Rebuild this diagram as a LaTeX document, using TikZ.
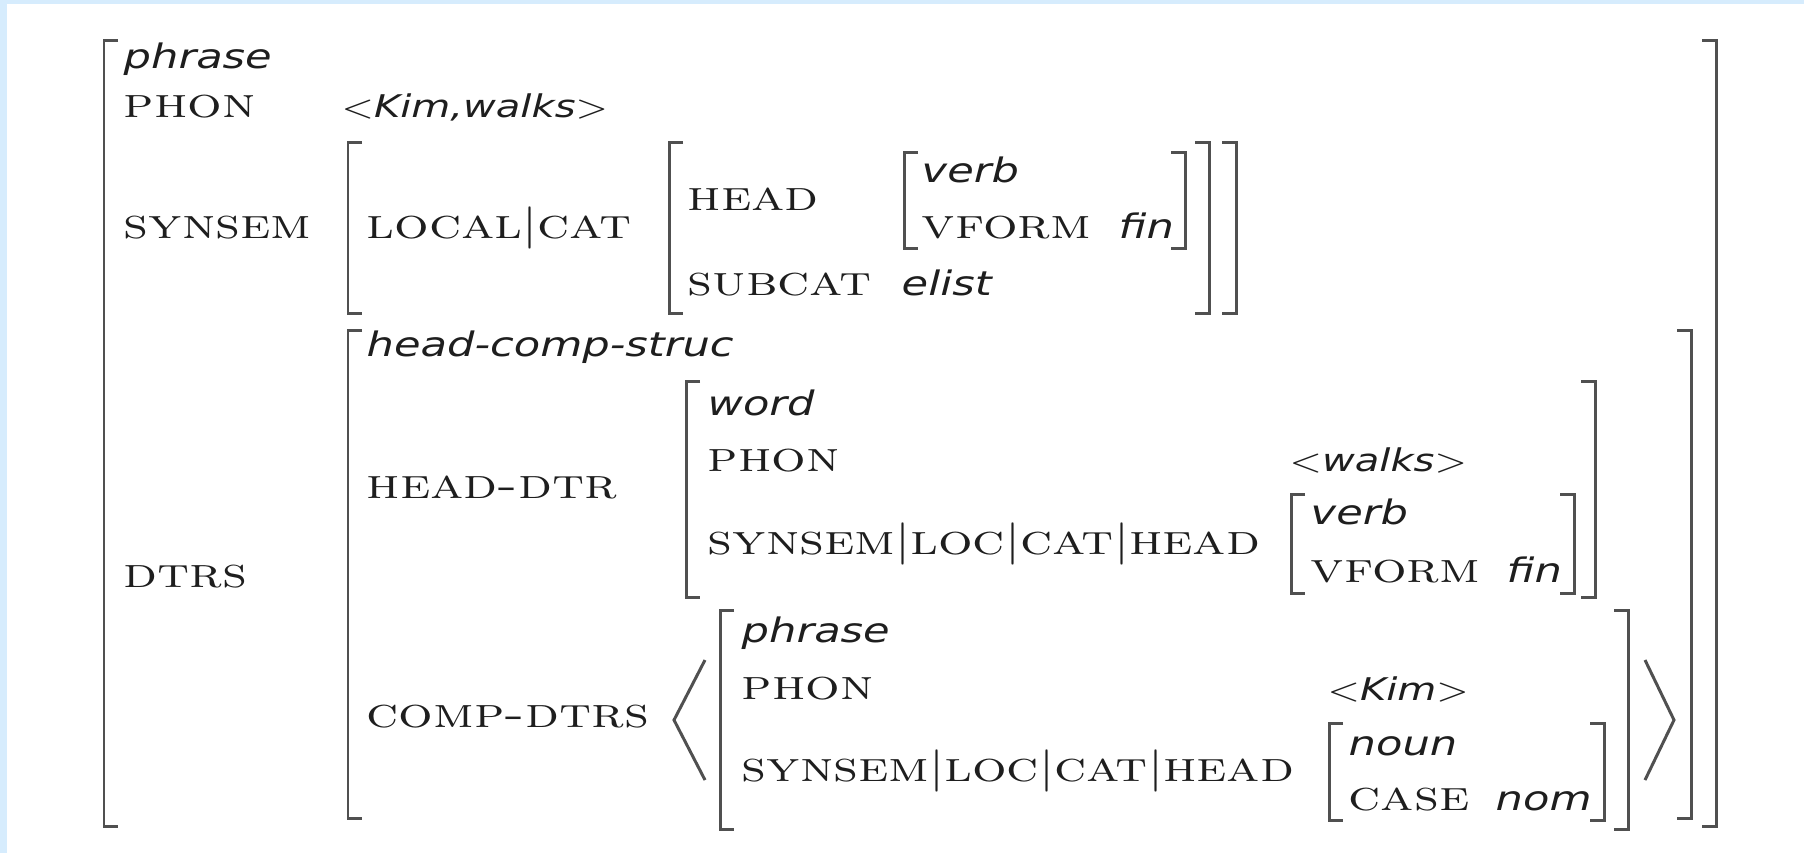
\documentclass[tikz,border=0pt]{standalone}
\usepackage{fontspec}
\usepackage{graphicx}
\newfontfamily\typefont{DejaVu Sans}
\definecolor{bgblue}{RGB}{214,236,253}
\definecolor{ink}{RGB}{30,30,30}
\definecolor{rule}{RGB}{80,80,80}
% features in small caps, types in oblique sans, both a little wide
\newcommand{\sx}{1.28}
\newcommand{\feat}[1]{\scalebox{\sx}[1]{\fontsize{12.1}{14}\selectfont\textsc{#1}}}
\newcommand{\typ}[1]{\scalebox{\sx}[1]{\fontsize{9.6}{11}\typefont\itshape #1}}
\newcommand{\ang}[1]{\scalebox{\sx}[1]{\fontsize{8.9}{11}\selectfont$<$\typefont\itshape #1\/$>$}}
\begin{document}
\begin{tikzpicture}
    \tikzstyle{lab}=[anchor=base west,inner sep=0pt,text=ink]
    \tikzstyle{bracket}=[draw=rule,line width=0.85pt]

    \useasboundingbox (0,0) rectangle (18.04,-8.53);
    \fill[bgblue] (0,0) rectangle (18.04,-8.53);
    \fill[white] (0.07,-0.04) rectangle (18.04,-8.53);

    % square brackets: left x / right x / top / bottom
    \foreach \xa/\xb/\ya/\yb in {1.04/17.16/0.40/8.26, 3.48/12.36/1.42/3.13,
        6.69/12.09/1.42/3.13, 9.04/11.85/1.52/2.48, 3.48/16.91/3.30/8.18,
        6.86/15.95/3.81/5.97, 12.91/15.74/4.94/5.93, 7.20/16.28/6.10/8.29,
        13.29/16.04/7.23/8.20}
    {
      \draw[bracket] (\xa+0.14,-\ya) -- (\xa,-\ya) -- (\xa,-\yb) -- (\xa+0.14,-\yb);
      \draw[bracket] (\xb-0.14,-\ya) -- (\xb,-\ya) -- (\xb,-\yb) -- (\xb-0.14,-\yb);
    }

    % angle brackets round the comp-dtrs list
    \draw[bracket] (7.05,-6.60) -- (6.74,-7.20) -- (7.05,-7.80);
    \draw[bracket] (16.45,-6.60) -- (16.74,-7.20) -- (16.45,-7.80);

    % mother
    \node[lab] (type) at (1.23,-0.68) {\typ{phrase}};
    \node[lab] (phon) at (1.23,-1.17) {\feat{phon}};
    \node[lab] (phon-val) at (3.41,-1.17) {\ang{Kim,walks}};
    \node[lab] (synsem) at (1.23,-2.38) {\feat{synsem}};
    \node[lab] (loc-cat) at (3.66,-2.38) {\feat{local$|$cat}};
    \node[lab] (head) at (6.87,-2.10) {\feat{head}};
    \node[lab] (head-type) at (9.21,-1.82) {\typ{verb}};
    \node[lab] (vform) at (9.21,-2.38) {\feat{vform}};
    \node[lab] (vform-val) at (11.18,-2.38) {\typ{fin}};
    \node[lab] (subcat) at (6.87,-2.95) {\feat{subcat}};
    \node[lab] (subcat-val) at (9.01,-2.95) {\typ{elist}};

    % daughters
    \node[lab] (dtrs) at (1.23,-5.87) {\feat{dtrs}};
    \node[lab] (dtrs-type) at (3.66,-3.56) {\typ{head-comp-struc}};

    % head daughter
    \node[lab] (hd) at (3.66,-4.98) {\feat{head-dtr}};
    \node[lab] (hd-type) at (7.07,-4.15) {\typ{word}};
    \node[lab] (hd-phon) at (7.07,-4.71) {\feat{phon}};
    \node[lab] (hd-phon-val) at (12.89,-4.71) {\ang{walks}};
    \node[lab] (hd-path) at (7.07,-5.54) {\feat{synsem$|$loc$|$cat$|$head}};
    \node[lab] (hd-head-type) at (13.10,-5.24) {\typ{verb}};
    \node[lab] (hd-vform) at (13.10,-5.82) {\feat{vform}};
    \node[lab] (hd-vform-val) at (15.06,-5.82) {\typ{fin}};

    % complement daughter
    \node[lab] (cd) at (3.66,-7.27) {\feat{comp-dtrs}};
    \node[lab] (cd-type) at (7.41,-6.42) {\typ{phrase}};
    \node[lab] (cd-phon) at (7.41,-6.99) {\feat{phon}};
    \node[lab] (cd-phon-val) at (13.27,-7.00) {\ang{Kim}};
    \node[lab] (cd-path) at (7.41,-7.81) {\feat{synsem$|$loc$|$cat$|$head}};
    \node[lab] (cd-head-type) at (13.48,-7.55) {\typ{noun}};
    \node[lab] (cd-case) at (13.48,-8.10) {\feat{case}};
    \node[lab] (cd-case-val) at (14.95,-8.10) {\typ{nom}};
\end{tikzpicture}
\end{document}
